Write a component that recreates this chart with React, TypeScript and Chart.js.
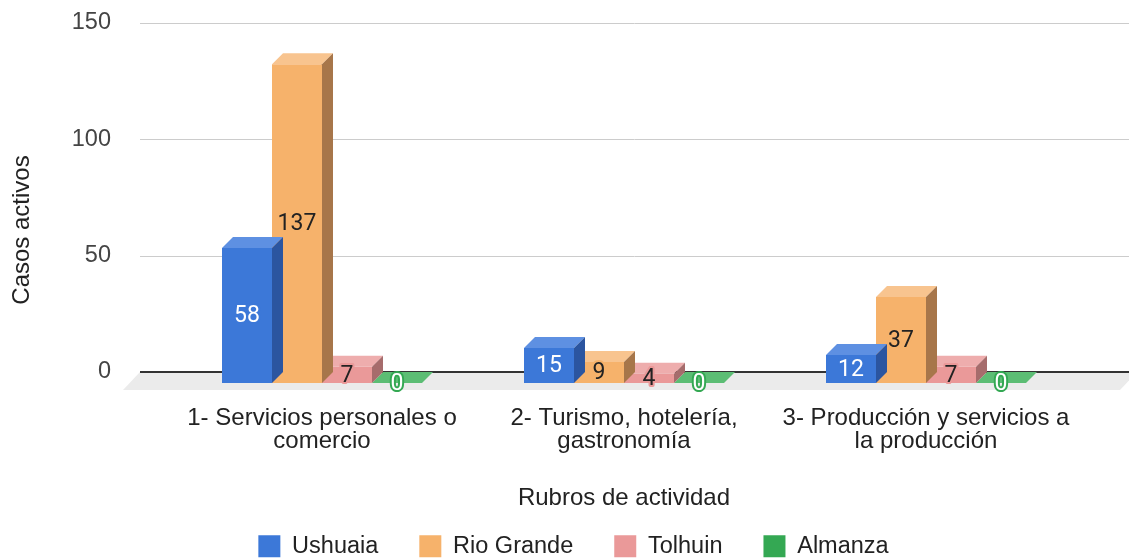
import React, { useEffect, useRef } from 'react';
import { Chart, registerables } from 'chart.js';

Chart.register(...registerables);

const categories = [
  ['1- Servicios personales o', 'comercio'],
  ['2- Turismo, hotelería,', 'gastronomía'],
  ['3- Producción y servicios a', 'la producción'],
];
const seriesNames = ['Ushuaia', 'Rio Grande', 'Tolhuin', 'Almanza'];
const ushuaia = [58, 15, 12];
const rioGrande = [137, 9, 37];
const tolhuin = [7, 4, 7];
const almanza = [0, 0, 0];
const yTicks = [0, 50, 100, 150];
const yTitle = 'Casos activos';
const xTitle = 'Rubros de actividad';

const FRONT = ['#3c78d8', '#f6b26b', '#ea9999', '#34a853'];
const TOP = ['#5e90e2', '#f8c48f', '#eeadad', '#5cbd74'];
const SIDE = ['#2b55a0', '#a7764a', '#a66c6c', '#24783a'];
const LABEL = ['#ffffff', '#222222', '#222222', '#ffffff'];

const SANS = "'Liberation Sans', Arial, sans-serif";
const DEPTH = 11;

const bar3d = {
  id: 'bar3d',
  beforeDatasetsDraw(chart: any) {
    const { ctx, chartArea, scales } = chart;
    const y = scales.y;
    const y0 = y.getPixelForValue(0);
    const left = chartArea.left - 31;
    const right = chartArea.right + 52;
    ctx.save();
    // floor
    ctx.fillStyle = '#ebebeb';
    ctx.beginPath();
    ctx.moveTo(left, y0 - DEPTH);
    ctx.lineTo(right + 8, y0 - DEPTH);
    ctx.lineTo(right + 8 - 17, y0 + 7);
    ctx.lineTo(left - 17, y0 + 7);
    ctx.closePath();
    ctx.fill();
    // back wall gridlines
    for (const t of y.ticks) {
      const py = Math.round(y.getPixelForValue(t.value) - DEPTH);
      ctx.beginPath();
      if (t.value === 0) {
        ctx.strokeStyle = '#333333';
        ctx.lineWidth = 2;
        ctx.moveTo(left, py);
        ctx.lineTo(right, py);
      } else {
        ctx.strokeStyle = '#cccccc';
        ctx.lineWidth = 1;
        ctx.moveTo(left, py + 0.5);
        ctx.lineTo(right, py + 0.5);
      }
      ctx.stroke();
    }
    // y axis title
    ctx.translate(chartArea.left - 149, chartArea.bottom - 153);
    ctx.rotate(-Math.PI / 2);
    ctx.font = `24px ${SANS}`;
    ctx.fillStyle = '#222222';
    ctx.textAlign = 'center';
    ctx.textBaseline = 'middle';
    ctx.fillText(yTitle, 0, 0);
    ctx.restore();
  },
  afterDatasetDraw(chart: any, args: any) {
    const { ctx } = chart;
    const i = args.index;
    const meta = args.meta;
    ctx.save();
    for (const el of meta.data) {
      const l = el.x - el.width / 2;
      const r = el.x + el.width / 2;
      const t = el.y;
      const b = el.base;
      ctx.fillStyle = TOP[i];
      ctx.beginPath();
      ctx.moveTo(l, t);
      ctx.lineTo(r, t);
      ctx.lineTo(r + DEPTH, t - DEPTH);
      ctx.lineTo(l + DEPTH, t - DEPTH);
      ctx.closePath();
      ctx.fill();
      if (b - t > 0.5) {
        ctx.fillStyle = SIDE[i];
        ctx.beginPath();
        ctx.moveTo(r, t);
        ctx.lineTo(r + DEPTH, t - DEPTH);
        ctx.lineTo(r + DEPTH, b - DEPTH);
        ctx.lineTo(r, b);
        ctx.closePath();
        ctx.fill();
      }
    }
    ctx.restore();
  },
  afterDatasetsDraw(chart: any) {
    const { ctx } = chart;
    ctx.save();
    ctx.font = '23px Roboto';
    ctx.textAlign = 'center';
    ctx.textBaseline = 'middle';
    ctx.lineJoin = 'round';
    chart.data.datasets.forEach((ds: any, i: number) => {
      const meta = chart.getDatasetMeta(i);
      meta.data.forEach((el: any, j: number) => {
        const text = String(ds.data[j]);
        const cx = el.x;
        const cy = (el.y + el.base) / 2 + 1;
        ctx.lineWidth = 4;
        ctx.strokeStyle = FRONT[i];
        ctx.strokeText(text, cx, cy);
        ctx.fillStyle = LABEL[i];
        ctx.fillText(text, cx, cy);
      });
    });
    ctx.restore();
  },
};

export default function App() {
  const ref = useRef<HTMLCanvasElement | null>(null);
  useEffect(() => {
    if (!ref.current) return;
    const series = [ushuaia, rioGrande, tolhuin, almanza];
    const chart = new Chart(ref.current, {
      type: 'bar',
      data: {
        labels: categories as any,
        datasets: series.map((d, i) => ({
          label: seriesNames[i],
          data: d,
          backgroundColor: FRONT[i],
          borderWidth: 0,
          categoryPercentage: 200 / 302,
          barPercentage: 1,
        })),
      },
      options: {
        animation: false,
        responsive: false,
        devicePixelRatio: 1,
        layout: { padding: { top: 34, left: 70, right: 52, bottom: -9 } },
        plugins: {
          legend: {
            position: 'bottom',
            labels: {
              font: { family: SANS, size: 23.5 },
              color: '#222222',
              boxWidth: 22,
              boxHeight: 22,
              padding: 41,
            },
          },
          tooltip: { enabled: false },
        },
        scales: {
          x: {
            grid: { display: false, drawTicks: false },
            border: { display: false },
            ticks: {
              font: { family: SANS, size: 24, lineHeight: 0.95 },
              color: '#222222',
              padding: 24,
              maxRotation: 0,
              autoSkip: false,
            },
            title: {
              display: true,
              text: xTitle,
              font: { family: SANS, size: 24 },
              color: '#222222',
              padding: { top: 0, bottom: -19 },
            },
            afterFit(s: any) {
              s.height = 110.5;
            },
          },
          y: {
            min: 0,
            max: 150,
            afterBuildTicks(s: any) {
              s.ticks = yTicks.map((v) => ({ value: v }));
            },
            grid: { display: false, drawTicks: true, tickLength: 60 },
            border: { display: false },
            ticks: {
              font: { family: SANS, size: 23.5 },
              color: '#444444',
              padding: 0,
              labelOffset: -DEPTH,
            },
            title: { display: false },
            afterFit(s: any) {
              s.width = 101;
            },
          },
        },
      },
      plugins: [bar3d],
    });
    return () => chart.destroy();
  }, []);
  return (
    <div style={{ position: 'absolute', left: 0, top: 0, width: 1129, height: 559 }}>
      <canvas ref={ref} width={1129} height={559} style={{ display: 'block' }} />
    </div>
  );
}
